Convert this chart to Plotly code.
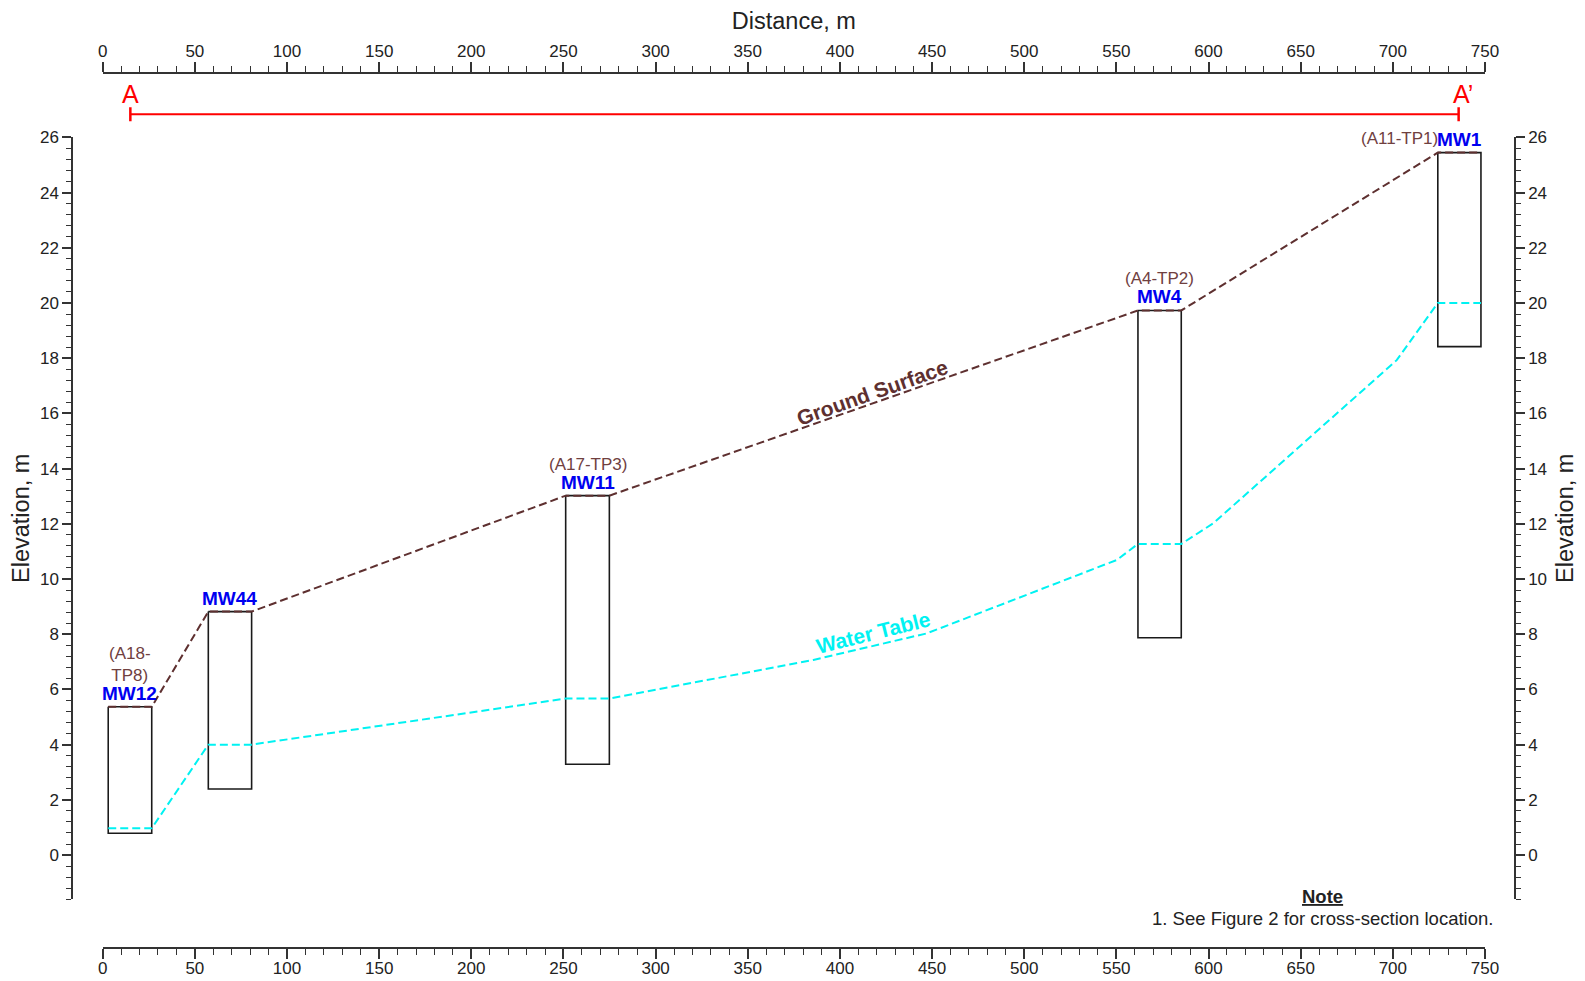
import plotly.graph_objects as go

# ---------------- data ----------------
well_names = ["MW12", "MW44", "MW11", "MW4", "MW1"]
test_pits = ["(A18-<br>TP8)", "", "(A17-TP3)", "(A4-TP2)", "(A11-TP1)"]
well_x_left = [3.0, 57.3, 251.2, 561.7, 724.4]
well_x_right = [26.6, 80.8, 274.9, 585.2, 747.8]
well_top = [5.37, 8.82, 13.02, 19.73, 25.45]
well_bottom = [0.79, 2.39, 3.29, 7.87, 18.42]
water_level = [0.97, 4.0, 5.67, 11.27, 20.0]

# intermediate water-table points between wells
wt_mid_x = [385.6, 447.1, 550.2, 602.6, 702.1]
wt_mid_y = [7.07, 8.03, 10.69, 12.02, 17.93]

section_ends = [15.0, 735.7]
section_labels = ["A", "A\u2019"]

x_range = [0, 750]
y_range = [-1.6, 26]

# ---------------- styling ----------------
FONT = "Liberation Sans, Arial, sans-serif"
AX = "#333333"
TXT = "#222222"
BROWN = "#5E3030"
PIT = "#70403F"
CYAN = "#00F2F2"
BLUE = "#0000F0"

OFF = 8  # page body margin
W, H = 1585 - OFF, 981 - OFF
L, R, T, B = 72 - OFF, 70, 73 - OFF, 33
pw, ph = W - L - R, H - T - B
# reference pixel positions (page coords) -> figure coords
x0_px, x750_px = 102.7 - OFF, 1485.0 - OFF
y_top_px, y_bot_px = 137.4 - OFF, 899.2 - OFF

xd = [(x0_px - L) / pw, (x750_px - L) / pw]
yd = [(H - B - y_bot_px) / ph, (H - B - y_top_px) / ph]


def px_to_paper(px, py):
    return (px - OFF - L) / pw, (H - B - (py - OFF)) / ph


fig = go.Figure()

# well boxes
for i, name in enumerate(well_names):
    l, r, t, b = well_x_left[i], well_x_right[i], well_top[i], well_bottom[i]
    fig.add_trace(go.Scatter(
        x=[l, r, r, l, l], y=[t, t, b, b, t], mode="lines",
        line=dict(color="#1a1a1a", width=1.6), hoverinfo="skip",
        showlegend=False, xaxis="x", yaxis="y"))

# ground surface
gx, gy = [], []
for i in range(len(well_names)):
    gx += [well_x_left[i], well_x_right[i]]
    gy += [well_top[i], well_top[i]]
fig.add_trace(go.Scatter(
    x=gx, y=gy, mode="lines", line=dict(color=BROWN, width=2, dash="8px,4px"),
    hoverinfo="skip", showlegend=False, xaxis="x", yaxis="y"))

# water table
pts = []
for i in range(len(well_names)):
    pts += [(well_x_left[i], water_level[i]), (well_x_right[i], water_level[i])]
pts += list(zip(wt_mid_x, wt_mid_y))
pts.sort()
fig.add_trace(go.Scatter(
    x=[p[0] for p in pts], y=[p[1] for p in pts], mode="lines",
    line=dict(color=CYAN, width=2, dash="8px,4px"),
    hoverinfo="skip", showlegend=False, xaxis="x2", yaxis="y2"))

ann = []
for i, name in enumerate(well_names):
    cx = (well_x_left[i] + well_x_right[i]) / 2
    ann.append(dict(x=cx, y=well_top[i], xref="x", yref="y", text="<b>%s</b>" % name,
                    showarrow=False, xanchor="center", yanchor="bottom", yshift=1,
                    font=dict(family=FONT, size=19, color=BLUE)))
    if test_pits[i]:
        if i == len(well_names) - 1:
            ann.append(dict(x=well_x_left[i], y=well_top[i], xref="x", yref="y",
                            text=test_pits[i], showarrow=False, xanchor="right",
                            yanchor="bottom", yshift=3, xshift=2,
                            font=dict(family=FONT, size=17, color=PIT)))
        else:
            ann.append(dict(x=cx, y=well_top[i], xref="x", yref="y",
                            text=test_pits[i], showarrow=False, xanchor="center",
                            yanchor="bottom", yshift=20,
                            font=dict(family=FONT, size=17, color=PIT)))

ann.append(dict(x=417.6, y=16.75, xref="x", yref="y", text="<b>Ground Surface</b>",
                showarrow=False, textangle=-19.5, xanchor="center", yanchor="middle",
                font=dict(family=FONT, size=21, color=BROWN)))
ann.append(dict(x=418.1, y=8.05, xref="x", yref="y", text="<b>Water Table</b>",
                showarrow=False, textangle=-14, xanchor="center", yanchor="middle",
                font=dict(family=FONT, size=21, color=CYAN)))

# section line A - A'
_, sec_y = px_to_paper(0, 114.2)
shapes = [dict(type="line", xref="x", yref="paper", x0=section_ends[0], x1=section_ends[1],
               y0=sec_y, y1=sec_y, line=dict(color="#FF0000", width=2))]
for xe, lab in zip(section_ends, section_labels):
    shapes.append(dict(type="line", xref="x", yref="paper", x0=xe, x1=xe,
                       y0=sec_y - 7 / ph, y1=sec_y + 7 / ph,
                       line=dict(color="#FF0000", width=2.5)))
    ann.append(dict(x=xe, y=sec_y + 7 / ph, xref="x", yref="paper", text=lab,
                    showarrow=False, xanchor="center", yanchor="bottom", yshift=-3,
                    xshift=0 if lab == "A" else 4,
                    font=dict(family=FONT, size=25, color="#FF0000")))

# note
nx, ny1 = px_to_paper(1322, 896.6)
_, ny2 = px_to_paper(1322, 918)
ann.append(dict(x=nx, y=ny1, xref="paper", yref="paper", text="<b><u>Note</u></b>",
                showarrow=False, xanchor="center", yanchor="middle",
                font=dict(family=FONT, size=18.5, color=TXT)))
ann.append(dict(x=nx, y=ny2, xref="paper", yref="paper",
                text="1. See Figure 2 for cross-section location.",
                showarrow=False, xanchor="center", yanchor="middle",
                font=dict(family=FONT, size=18.5, color=TXT)))

xcommon = dict(range=x_range, domain=xd, showline=True, linecolor=AX, linewidth=1.5,
               ticks="outside", ticklen=10, tickwidth=1.5, tickcolor=AX, dtick=50, tick0=0,
               minor=dict(dtick=10, ticklen=6, tickwidth=1.3, tickcolor=AX, ticks="outside"),
               showgrid=False, zeroline=False, automargin=False,
               tickfont=dict(family=FONT, size=17, color=TXT))
ycommon = dict(range=y_range, domain=yd, showline=True, linecolor=AX, linewidth=1.5,
               ticks="outside", ticklen=9, tickwidth=1.5, tickcolor=AX, dtick=2, tick0=0,
               minor=dict(dtick=0.4, ticklen=5, tickwidth=1.3, tickcolor=AX, ticks="outside"),
               showgrid=False, zeroline=False, automargin=False,
               tickfont=dict(family=FONT, size=17, color=TXT))

fig.update_layout(
    width=W, height=H, margin=dict(l=L, r=R, t=T, b=B),
    paper_bgcolor="white", plot_bgcolor="white", showlegend=False,
    xaxis=dict(**xcommon, side="top", anchor="free", position=1, ticklabelstandoff=-2,
               title=dict(text="Distance, m", standoff=8,
                          font=dict(family=FONT, size=23.5, color=TXT))),
    xaxis2=dict(**xcommon, side="bottom", anchor="free", position=0, overlaying="x",
                ticklabelstandoff=-5),
    yaxis=dict(**ycommon, side="left", anchor="free", position=0,
               title=dict(text="Elevation, m", standoff=9,
                          font=dict(family=FONT, size=23.5, color=TXT))),
    yaxis2=dict(**ycommon, side="right", anchor="free", position=1, overlaying="y",
                title=dict(text="Elevation, m", standoff=9,
                           font=dict(family=FONT, size=23.5, color=TXT))),
    annotations=ann, shapes=shapes,
)

fig.write_html("out.html")
